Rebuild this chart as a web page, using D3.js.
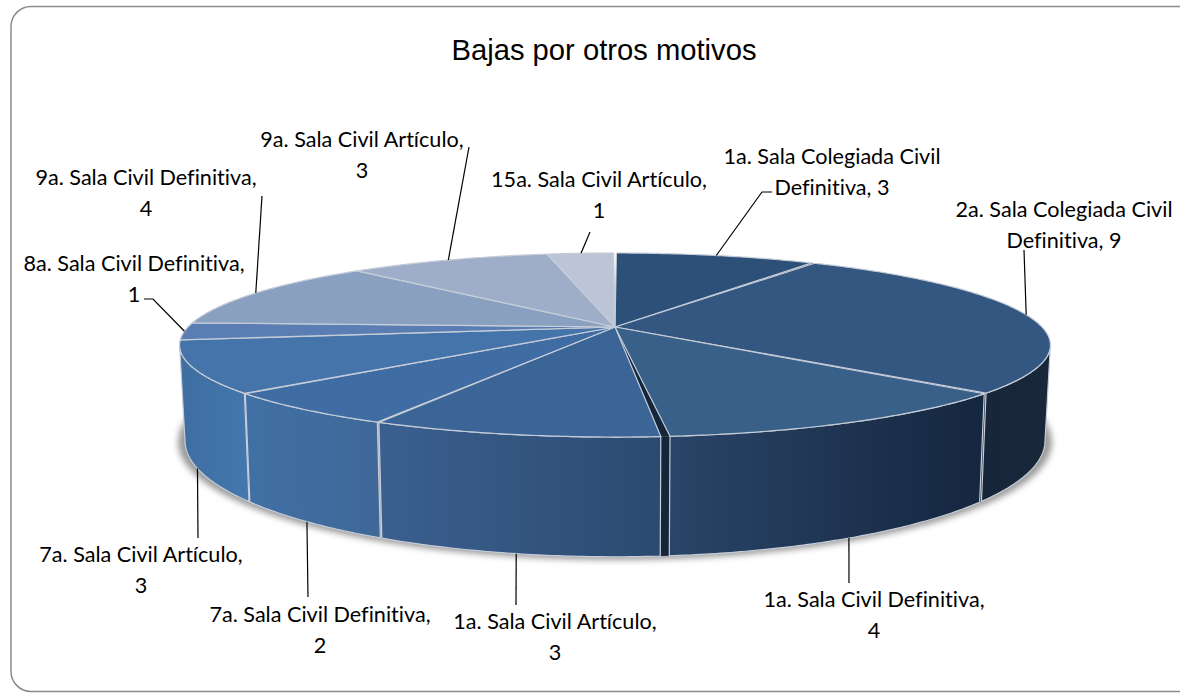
<!DOCTYPE html>
<html>
<head>
<meta charset="utf-8">
<script src="https://cdn.jsdelivr.net/npm/d3@7"></script>
<style>
  body { margin: 0; background: #fff; }
  svg { display: block; }
</style>
</head>
<body>
<div id="container"></div>
<script>
// values
let names = [
  "1a. Sala Colegiada Civil Definitiva", "2a. Sala Colegiada Civil Definitiva",
  "1a. Sala Civil Definitiva", "1a. Sala Civil Artículo",
  "7a. Sala Civil Definitiva", "7a. Sala Civil Artículo",
  "8a. Sala Civil Definitiva", "9a. Sala Civil Definitiva",
  "9a. Sala Civil Artículo", "15a. Sala Civil Artículo"
];
let values = [3, 9, 4, 3, 2, 3, 1, 4, 3, 1];

let w = 1180;
let h = 694;

// styles, one per slice
let topColors = ["#2c5077", "#345782", "#386088", "#3b6497", "#3f6ca2", "#4474a9", "#5a7eb3", "#8aa0c1", "#9eaec9", "#bcc5d6"];
let wallLeft = ["#17263a", "#17263a", "#2a4568", "#3b6090", "#4170a5", "#3f6da1", "#5a7eb3", "#8aa0c1", "#9eaec9", "#bcc5d6"];
let wallRight = ["#17263a", "#18283a", "#15263f", "#2b4a70", "#3f6899", "#4377ad", "#5a7eb3", "#8aa0c1", "#9eaec9", "#bcc5d6"];
let rimColor = "#c6cdd8";
let gapColor = "#16263a";

// gap (degrees) between a slice and the next one
let gaps = [0.5, 0.4, 1.0, 0.2, 0.2, 0.08, 0.08, 0.08, 0.08, 0.45];
let gapIsDark = [true, true, true, false, false, false, false, false, false, false];

// label placement: centre x, first baseline, then the free end of the leader
let labelX = [832, 1064, 874, 555, 320, 141, 134, 146, 362, 599];
let labelY = [164, 217, 607, 629, 622, 562, 271, 185, 147, 187];
let leaderEnds = [[[762, 192], [772, 192]], [[1024, 250]], [[849, 583]], [[516, 605]], [[308, 597]],
  [[198, 538]], [[153, 299], [144, 299]], [[262, 196]], [[469, 147]], [[590, 232]]];

// perspective: top and bottom plane of the disc
let k = 5.11;
let topPlane = { cx: 615, cy: 327, r: 427, ry: 88.5 };
let bottomPlane = { cx: 615, cy: 418, r: 421.7, ry: 111.6 };
let edgeAngle = Math.acos(-1 / k);

function project(theta, plane) {
  let u = Math.sin(theta);
  let v = -Math.cos(theta);
  let f = k / (k - v);
  return [plane.cx + plane.r * u * f, plane.cy + plane.ry * v * f];
}

function sampleAngles(a0, a1) {
  let n = Math.max(2, Math.ceil(Math.abs(a1 - a0) / 0.01));
  return d3.range(n + 1).map(function(i) { return a0 + (a1 - a0) * i / n; });
}

let line = d3.line();
let rad = Math.PI / 180;

let viz = d3.select("#container")
  .append("svg")
    .attr("width", w)
    .attr("height", h)
;

let defs = viz.append("defs");
defs.append("filter").attr("id", "blur")
    .attr("x", "-5%").attr("y", "-10%").attr("width", "110%").attr("height", "120%")
  .append("feGaussianBlur").attr("stdDeviation", 3);

// chart frame, runs off the right edge
viz.append("rect")
  .attr("x", 11).attr("y", 6.5)
  .attr("width", 1200).attr("height", 685)
  .attr("rx", 20).attr("ry", 20)
  .attr("fill", "#fff")
  .attr("stroke", "#8c8c8c")
  .attr("stroke-width", 1.5)
;

viz.append("text")
  .text("Bajas por otros motivos")
  .attr("x", 604).attr("y", 60)
  .attr("text-anchor", "middle")
  .attr("font-family", "'Liberation Sans', Arial, sans-serif")
  .attr("font-size", 29.2)
  .attr("fill", "#000")
;

let arcs = d3.pie().sort(null).value(function(d) { return d; })(values);

// soft shadow under the disc
let shadowPlane = { cx: 615, cy: bottomPlane.cy + 1, r: bottomPlane.r * 1.016, ry: bottomPlane.ry * 1.015 };
viz.append("path")
  .attr("d", line(sampleAngles(0, Math.PI * 2).map(function(t) { return project(t, shadowPlane); })) + "Z")
  .attr("fill", "#9a9a9a")
  .attr("filter", "url(#blur)")
;

// dark inner faces seen through the gaps
let gapGroup = viz.append("g");
arcs.forEach(function(d, i) {
  if (!gapIsDark[i]) return;
  let half = gaps[i] * rad / 2;
  let a0 = d.endAngle - half;
  let a1 = d.endAngle + half;
  let center = [topPlane.cx, topPlane.cy];
  gapGroup.append("path")
    .attr("d", line([center, project(a0, topPlane), project(a1, topPlane)]) + "Z")
    .attr("fill", gapColor);
  if (d.endAngle > edgeAngle) {
    gapGroup.append("path")
      .attr("d", line([project(a0, topPlane), project(a1, topPlane), project(a1, bottomPlane), project(a0, bottomPlane)]) + "Z")
      .attr("fill", gapColor);
  }
});

function sliceStart(d, i) {
  return d.startAngle + gaps[(i + values.length - 1) % values.length] * rad / 2;
}
function sliceEnd(d, i) {
  return d.endAngle - gaps[i] * rad / 2;
}

// walls, only where the side faces the viewer
let wallGroup = viz.append("g");
arcs.forEach(function(d, i) {
  let a0 = Math.max(sliceStart(d, i), edgeAngle);
  let a1 = Math.min(sliceEnd(d, i), Math.PI * 2 - edgeAngle);
  if (a1 <= a0) return;
  let upper = sampleAngles(a0, a1).map(function(t) { return project(t, topPlane); });
  let lower = sampleAngles(a1, a0).map(function(t) { return project(t, bottomPlane); });
  let grad = defs.append("linearGradient")
    .attr("id", "wall" + i)
    .attr("gradientUnits", "userSpaceOnUse")
    .attr("x1", d3.min(upper, function(p) { return p[0]; }))
    .attr("x2", d3.max(upper, function(p) { return p[0]; }))
    .attr("y1", 0).attr("y2", 0);
  grad.append("stop").attr("offset", 0).attr("stop-color", wallLeft[i]);
  grad.append("stop").attr("offset", 1).attr("stop-color", wallRight[i]);
  wallGroup.append("path")
    .attr("d", line(upper.concat(lower)) + "Z")
    .attr("fill", "url(#wall" + i + ")")
    .attr("stroke", rimColor)
    .attr("stroke-width", 1.2)
    .attr("stroke-linejoin", "round");
});

// top faces
viz.append("g").selectAll("path")
  .data(arcs)
  .enter()
  .append("path")
    .attr("d", function(d, i) {
      let rim = sampleAngles(sliceStart(d, i), sliceEnd(d, i)).map(function(t) { return project(t, topPlane); });
      return line([[topPlane.cx, topPlane.cy]].concat(rim)) + "Z";
    })
    .attr("fill", function(d, i) { return topColors[i]; })
    .attr("stroke", rimColor)
    .attr("stroke-width", 1.2)
    .attr("stroke-linejoin", "round")
;

// leaders start on the rim at the middle of the slice
viz.append("g").selectAll("path")
  .data(arcs)
  .enter()
  .append("path")
    .attr("d", function(d, i) {
      let mid = (d.startAngle + d.endAngle) / 2;
      let front = mid > edgeAngle && mid < Math.PI * 2 - edgeAngle;
      let start = project(mid, front ? bottomPlane : topPlane);
      return line([start].concat(leaderEnds[i]));
    })
    .attr("fill", "none")
    .attr("stroke", "#000")
    .attr("stroke-width", 1.2)
;

let labels = viz.append("g").selectAll("text")
  .data(arcs)
  .enter()
  .append("text")
    .attr("text-anchor", "middle")
    .attr("font-family", "Lato, sans-serif")
    .attr("font-size", 21.6)
    .style("font-variant-ligatures", "none")
    .attr("fill", "#000")
;
labels.each(function(d, i) {
  let full = names[i];
  let lines = [full + ",", String(values[i])];
  if (full.indexOf("Colegiada") > -1) {
    lines = ["" + full.replace(" Definitiva", ""), "Definitiva, " + values[i]];
  }
  d3.select(this).selectAll("tspan")
    .data(lines)
    .enter()
    .append("tspan")
      .attr("x", labelX[i])
      .attr("y", function(s, j) { return labelY[i] + j * 31; })
      .text(function(s) { return s; });
});
</script>
</body>
</html>
